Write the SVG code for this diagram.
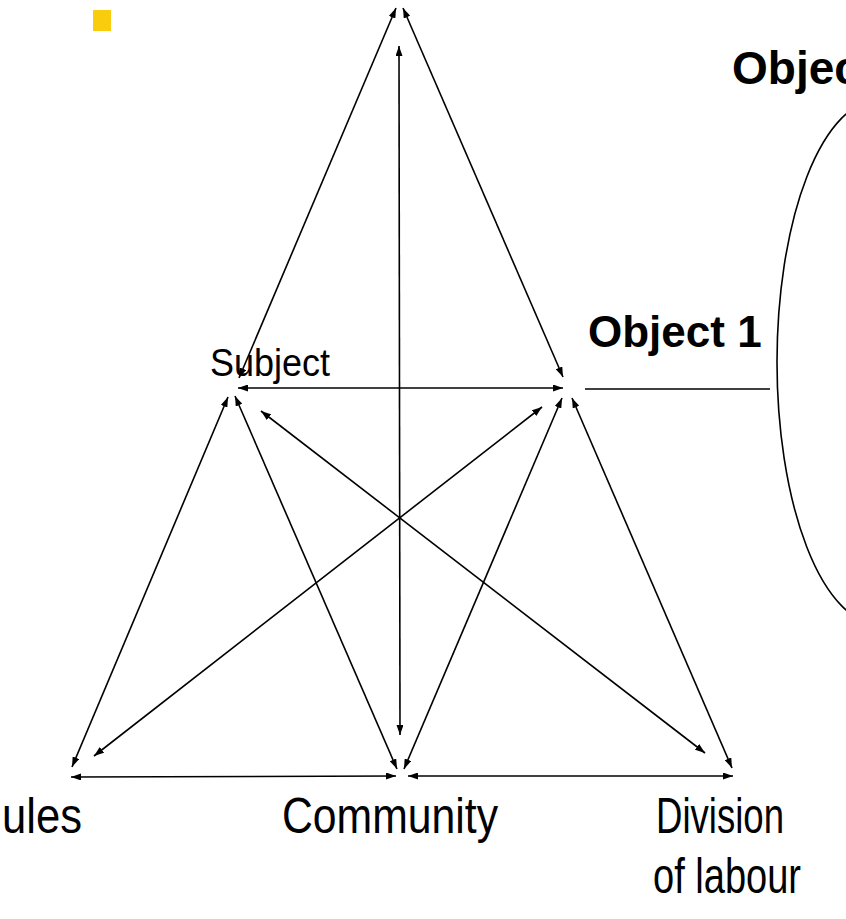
<svg xmlns="http://www.w3.org/2000/svg" width="846" height="919" viewBox="0 0 846 919">
  <style>
    .link { stroke: #000; stroke-width: 1.6; fill: none; }
    .both { marker-start: url(#head); marker-end: url(#head); }
    .label { font-family: "Liberation Sans", Arial, sans-serif; fill: #000; }
    .bold { font-weight: bold; }
  </style>
  <defs>
    <marker id="head" viewBox="0 0 10 7" refX="10" refY="3.5" markerWidth="10" markerHeight="7" markerUnits="userSpaceOnUse" orient="auto-start-reverse">
      <path d="M0,0 L10,3.5 L0,7 z" fill="#000"/>
    </marker>
  </defs>
  <rect width="846" height="919" fill="#fff"/>

  <!-- bullet mark -->
  <rect x="93" y="10" width="18" height="21" fill="#FACC0E"/>

  <!-- second object: partial ellipse running off the right edge -->
  <g id="object2">
    <ellipse cx="879" cy="362" rx="102" ry="262" class="link"/>
    <text class="label bold" x="732" y="84" font-size="46">Object</text>
  </g>

  <g id="connectors">
    <line class="link both" x1="396" y1="8" x2="239" y2="378"/>
    <line class="link both" x1="403" y1="8" x2="563" y2="377"/>
    <line class="link both" x1="399" y1="46" x2="400" y2="735"/>
    <line class="link both" x1="238" y1="388" x2="563" y2="388"/>
    <line class="link both" x1="228" y1="397" x2="72" y2="767"/>
    <line class="link both" x1="235" y1="396" x2="397" y2="769"/>
    <line class="link both" x1="562" y1="398" x2="404" y2="769"/>
    <line class="link both" x1="572" y1="398" x2="732" y2="768"/>
    <line class="link both" x1="94" y1="756" x2="542" y2="407"/>
    <line class="link both" x1="261" y1="411" x2="705" y2="753"/>
    <line class="link both" x1="71" y1="777" x2="396" y2="776"/>
    <line class="link both" x1="408" y1="776" x2="733" y2="776"/>
    <line class="link" x1="585" y1="389" x2="770" y2="389"/>
  </g>

  <g id="subject">
    <text class="label" x="210" y="376" font-size="39" textLength="120" lengthAdjust="spacingAndGlyphs">Subject</text>
  </g>
  <g id="object1">
    <text class="label bold" x="588" y="347" font-size="44">Object 1</text>
  </g>
  <g id="rules">
    <text class="label" x="2" y="833" font-size="50" textLength="80" lengthAdjust="spacingAndGlyphs">ules</text>
  </g>
  <g id="community">
    <text class="label" x="282" y="833" font-size="50" textLength="216" lengthAdjust="spacingAndGlyphs">Community</text>
  </g>
  <g id="division">
    <text class="label" x="656" y="833" font-size="50" textLength="128" lengthAdjust="spacingAndGlyphs">Division</text>
    <text class="label" x="653" y="893" font-size="50" textLength="148" lengthAdjust="spacingAndGlyphs">of labour</text>
  </g>
</svg>
